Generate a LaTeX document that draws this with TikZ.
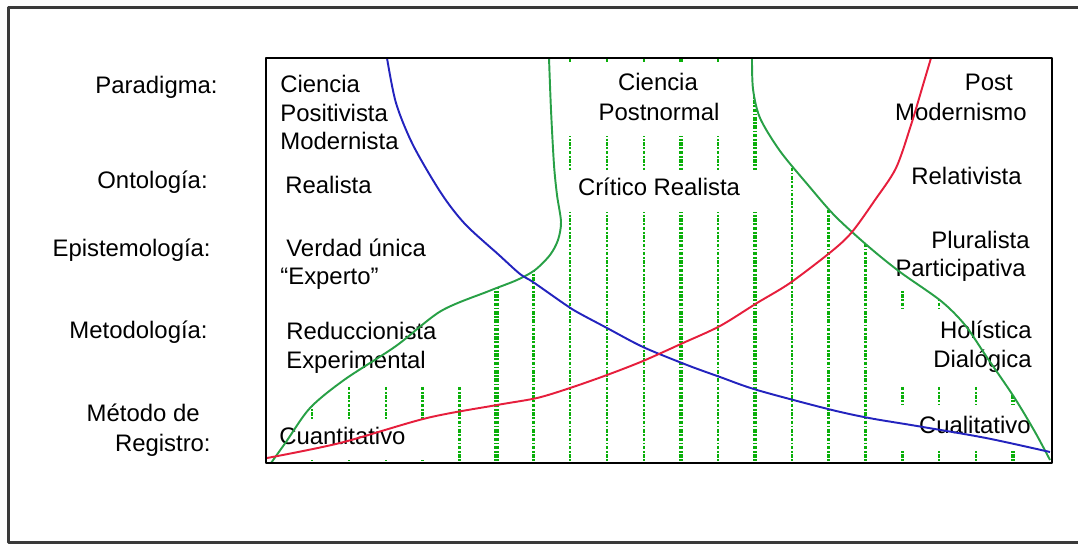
\documentclass[tikz,border=0pt]{standalone}
\usepackage{fontspec}
\setmainfont{Liberation Sans}
\definecolor{framegray}{RGB}{58,58,58}
\definecolor{dotgreen}{RGB}{10,175,10}
\definecolor{curvegreen}{RGB}{40,160,70}
\definecolor{curveblue}{RGB}{35,35,190}
\definecolor{curvered}{RGB}{230,30,60}
\begin{document}
\begin{tikzpicture}[x=0.02cm,y=-0.02cm,line join=round,
  lab/.style={inner sep=0pt,font=\fontsize{13.6}{16}\selectfont},
  vline/.style={dotgreen,dash pattern=on 2pt off 0.9pt on 1pt off 0.9pt},
  curve/.style={line width=1.1pt}]
\useasboundingbox (0,0) rectangle (1078,544);
\draw[framegray,line width=1.7pt](1078,7.5)--(8.5,7.5)--(8.5,542.5)--(1078,542.5);

% dotted band between the two green curves
\begin{scope}
\clip plot[smooth] coordinates {(271,463) (286,442) (310,408) (344,380) (396,346) (441,311) (489,291) (517,280) (535,270) (550,255) (558,240) (561,222) (557,195) (554,165) (551,110) (549,58)}
  -- plot[smooth] coordinates {(752,58) (753,89) (760,118) (780,151) (808,185) (835,216) (869,247) (900,272) (941,301) (965,325) (986,356) (1014,397) (1035,432) (1050,460)}
  -- (1052,463) -- cycle;
\foreach \k/\w in {0/1.3,1/1.3,2/1.3,3/2,4/1.3,5/2.6,6/1.3,7/1.3,8/1.3,9/1.3,
                   10/2.6,11/1.3,12/2.6,13/1.3,14/2,15/1.3,16/1.3,17/1.3,18/1.3,19/2}
  \draw[vline,line width=\w pt]({312+36.9*\k},58)--({312+36.9*\k},463);
\end{scope}

% white boxes behind the texts
\fill[white](565,63) rectangle (745,136);
\fill[white](562,170) rectangle (765,212);
\fill[white](268,300) rectangle (478,385);
\fill[white](268,419) rectangle (442,460);
\fill[white](885,225) rectangle (1048,289);
\fill[white](895,311) rectangle (1048,385);
\fill[white](895,405) rectangle (1048,450);

% row titles
\node[lab,anchor=base east] (para) at (218,93) {Paradigma:};
\node[lab,anchor=base east] (onto) at (208,188) {Ontología:};
\node[lab,anchor=base east] (epis) at (211,256) {Epistemología:};
\node[lab,anchor=base east] (meto) at (208,338) {Metodología:};
\node[lab,anchor=base east] (reg1) at (200,421) {Método de};
\node[lab,anchor=base east] (reg2) at (211,451) {Registro:};

% left column
\node[lab,anchor=base west] (pos1) at (280,92) {Ciencia};
\node[lab,anchor=base west] (pos2) at (280,121) {Positivista};
\node[lab,anchor=base west] (pos3) at (280,150) {Modernista};
\node[lab,anchor=base west] (real) at (285,193) {Realista};
\node[lab,anchor=base west] (ver1) at (286,256) {Verdad única};
\node[lab,anchor=base west] (ver2) at (280,284) {“Experto”};
\node[lab,anchor=base west] (red1) at (286,339) {Reduccionista};
\node[lab,anchor=base west] (red2) at (286,368) {Experimental};
\node[lab,anchor=base west] (cuan) at (279,444) {Cuantitativo};

% middle column
\node[lab,anchor=base] (pn1) at (658,91) {Ciencia};
\node[lab,anchor=base] (pn2) at (659,120) {Postnormal};
\node[lab,anchor=base] (crit) at (659,195) {Crítico Realista};

% right column
\node[lab,anchor=base east] (pm1) at (1013,91) {Post};
\node[lab,anchor=base east] (pm2) at (1027,120) {Modernismo};
\node[lab,anchor=base east] (rela) at (1022,184) {Relativista};
\node[lab,anchor=base east] (plu1) at (1030,248) {Pluralista};
\node[lab,anchor=base east] (plu2) at (1026,276) {Participativa};
\node[lab,anchor=base east] (hol1) at (1032,338) {Holística};
\node[lab,anchor=base east] (hol2) at (1032,367) {Dialógica};
\node[lab,anchor=base east] (cual) at (1031,433) {Cualitativo};

% curves
\draw[curve,curvegreen] plot[smooth] coordinates {(271,463) (286,442) (310,408) (344,380) (396,346) (441,311) (489,291) (517,280) (535,270) (550,255) (558,240) (561,222) (557,195) (554,165) (551,110) (549,58)};
\draw[curve,curvegreen] plot[smooth] coordinates {(752,58) (753,89) (760,118) (780,151) (808,185) (835,216) (869,247) (900,272) (941,301) (965,325) (986,356) (1014,397) (1035,432) (1050,460)};
\draw[curve,curveblue] plot[smooth] coordinates {(387,58) (396,103) (413,145) (441,193) (465,224) (499,255) (520,274) (533,282) (563,303) (577,312) (607,328) (643,347) (687,365) (720,377) (757,390) (828,409) (869,418) (917,426) (986,438) (1050,452)};
\draw[curve,curvered] plot[smooth] coordinates {(267,458) (340,443) (427,418) (497,405) (537,398) (570,388) (607,375) (643,361) (683,343) (720,326) (757,303) (790,283) (832,251) (852,232) (875,200) (896,168) (911,125) (923,85) (931,58)};

\draw[line width=1.4pt](266,58) rectangle (1052,463);
\end{tikzpicture}
\end{document}
